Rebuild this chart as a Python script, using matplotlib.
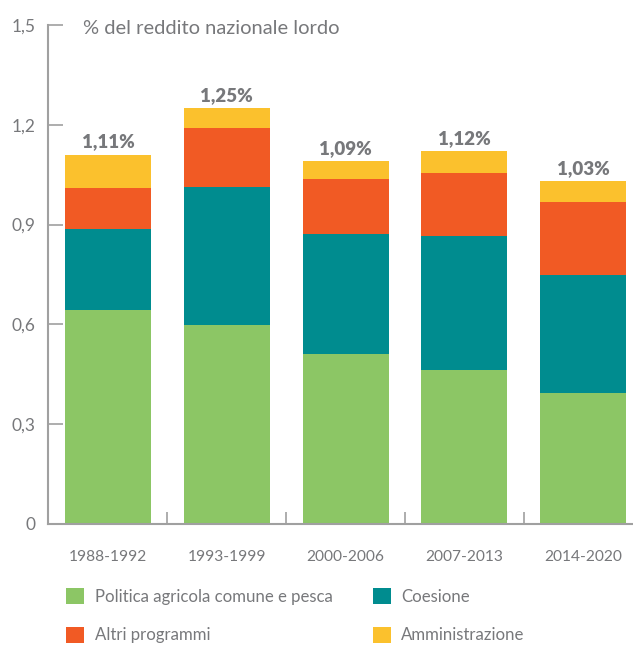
import numpy as np
import matplotlib.pyplot as plt
from matplotlib.patches import Patch

#----------------------------Data--------------------------------------------------------

periods = ['1988-1992', '1993-1999', '2000-2006', '2007-2013', '2014-2020']
agricoltura = [0.643, 0.598, 0.511, 0.463, 0.394]
coesione = [0.244, 0.415, 0.361, 0.403, 0.354]
altri = [0.123, 0.177, 0.165, 0.189, 0.220]
amministrazione = [0.100, 0.060, 0.053, 0.065, 0.062]
totals = ['1,11%', '1,25%', '1,09%', '1,12%', '1,03%']

series_names = ['Politica agricola comune e pesca', 'Coesione',
                'Altri programmi', 'Amministrazione']
colors = ['#8cc665', '#008c8f', '#f15a24', '#fbc12d']
grey = '#77787b'

plt.rcParams['font.family'] = ['Lato', 'DejaVu Sans']

#----------------------------Figure------------------------------------------------------

fig = plt.figure(figsize=(6.33, 6.46), dpi=100)
ax = fig.add_axes([48/633, 122/646, 585/633, 499/646])

x = np.arange(len(periods))
width = 0.724
bottom = np.zeros(len(periods))
for vals, col in zip([agricoltura, coesione, altri, amministrazione], colors):
    ax.bar(x, vals, width, bottom=bottom, color=col, edgecolor='none', zorder=2)
    bottom += np.array(vals)

for xi, top, lab in zip(x, bottom, totals):
    ax.text(xi, top + 0.013, lab, ha='center', va='bottom', fontsize=13.5,
            fontweight='heavy', color=grey)

ax.set_xlim(-0.505, 4.42)
ax.set_ylim(0, 1.5)

ax.set_yticks([0, 0.3, 0.6, 0.9, 1.2, 1.5])
ax.set_yticklabels(['0', '0,3', '0,6', '0,9', '1,2', '1,5'])
ax.tick_params(axis='y', direction='in', length=11, width=1.2, color='#a0a0a0',
               labelsize=12.5, labelcolor=grey, pad=9)

ax.set_xticks(x)
ax.set_xticklabels(periods)
ax.set_xticks(x[:-1] + 0.5, minor=True)
ax.tick_params(axis='x', which='major', length=0, labelsize=11.2,
               labelcolor=grey, pad=19)
ax.tick_params(axis='x', which='minor', direction='in', length=9, width=1.2,
               color='#a0a0a0')

for s in ['top', 'right']:
    ax.spines[s].set_visible(False)
for s in ['left', 'bottom']:
    ax.spines[s].set_color('#a0a0a0')
    ax.spines[s].set_linewidth(1.5)

ax.set_title('% del reddito nazionale lordo', loc='left', x=35/585, y=0.993,
             fontsize=14.5, color=grey, va='center', pad=0)

# legend fills column by column, so order handles to get rows as in the original
order = [0, 2, 1, 3]
handles = [Patch(facecolor=colors[i], edgecolor='none') for i in order]
labels = [series_names[i] for i in order]
fig.legend(handles, labels, loc='upper left', bbox_to_anchor=(66/633, 1 - 588/646),
           ncol=2, frameon=False, fontsize=12.1, labelcolor=grey,
           handlelength=1.1, handleheight=1.1, handletextpad=0.6,
           columnspacing=2.4, labelspacing=1.3, borderpad=0, borderaxespad=0)

fig.savefig('out.png', dpi=100)
